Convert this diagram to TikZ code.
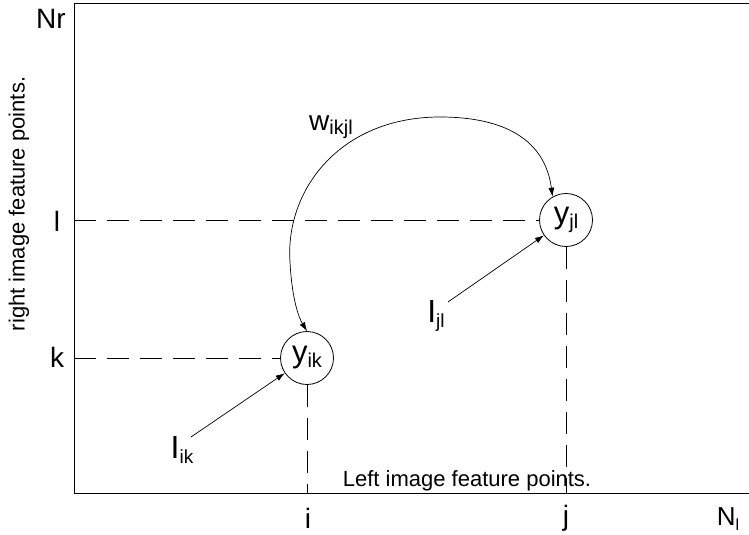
\documentclass[tikz,border=0pt]{standalone}
\usepackage{fontspec}
\setmainfont{Liberation Sans}
\usepackage{tikz}
\usetikzlibrary{arrows.meta, positioning}

% letter with a lowered index, as in the drawing
\newcommand{\idxlbl}[3][17]{#2\raisebox{-0.3ex}{\fontsize{#1}{#1}\selectfont #3}}

\begin{document}
\begin{tikzpicture}[x=1pt, y=-1pt, >={Latex[length=9pt,width=6pt]},
  axis/.style={line width=0.9pt},
  guide/.style={line width=0.8pt, dash pattern=on 22pt off 11pt},
  pointnode/.style={draw, circle, line width=0.8pt, minimum size=53pt, inner sep=0pt, font=\fontsize{31}{31}\selectfont},
  biglabel/.style={font=\fontsize{28}{28}\selectfont},
  termlabel/.style={font=\fontsize{32}{32}\selectfont},
  small/.style={font=\fontsize{22}{22}\selectfont},
  link/.style={<->, line width=0.7pt}
]
  \useasboundingbox (0,0) rectangle (749,535);

  % ======= frame =======
  \coordinate (topR) at (749,3);
  \coordinate (origin) at (74,493);
  \coordinate (botR) at (749,493);
  \draw[axis] (topR) -- (74,3) -- (origin) -- (botR);

  % ======= axis labels =======
  \node[biglabel] (lblNr) at (51,19) {Nr};
  \node[biglabel] (lblL) at (57,221) {l};
  \node[biglabel] (lblK) at (57,357) {k};
  \node[biglabel] (lblI) at (308,518) {i};
  \node[biglabel] (lblJ) at (566,518) {j};
  \node[font=\fontsize{26}{26}\selectfont] (lblNl) at (728,519) {\idxlbl[16]{N}{l}};
  \node[small, rotate=90] (lblRight) at (19,204) {right image feature points.};
  \node[small] (lblLeft) at (467,481) {Left image feature points.};

  % ======= the two matches =======
  \node[pointnode] (yik) at (307,358) {\idxlbl[20]{y}{ik}};
  \node[pointnode] (yjl) at (566,220) {\idxlbl[20]{y}{jl}};

  % dashed guides to the axes
  \coordinate (axL) at (74,220);
  \coordinate (axK) at (74,358);
  \draw[guide] (axL) -- (yjl);
  \draw[guide] (axK) -- (yik);
  \draw[guide] (yik) -- (yik |- origin);
  \draw[guide] (yjl) -- (yjl |- origin);

  % unary terms
  \node[termlabel] (Iik) at (182,450) {\idxlbl[19]{I}{ik}};
  \node[termlabel] (Ijl) at (436,316) {\idxlbl[19]{I}{jl}};
  \coordinate (IikTail) at (191,437);
  \coordinate (IjlTail) at (448,302);
  \draw[->, line width=0.7pt] (IikTail) -- (yik);
  \draw[->, line width=0.7pt] (IjlTail) -- (yjl);

  % pairwise term
  \node[font=\fontsize{28}{28}\selectfont] (wlbl) at (331,127) {\idxlbl[20]{w}{ikjl}};
  \draw[link] (yjl.120) .. controls (545,140) and (505,117) .. (440,117)
    .. controls (340,117) and (285,190) .. (290,262)
    .. controls (292,300) and (299,318) .. (yik.north);

\end{tikzpicture}
\end{document}
